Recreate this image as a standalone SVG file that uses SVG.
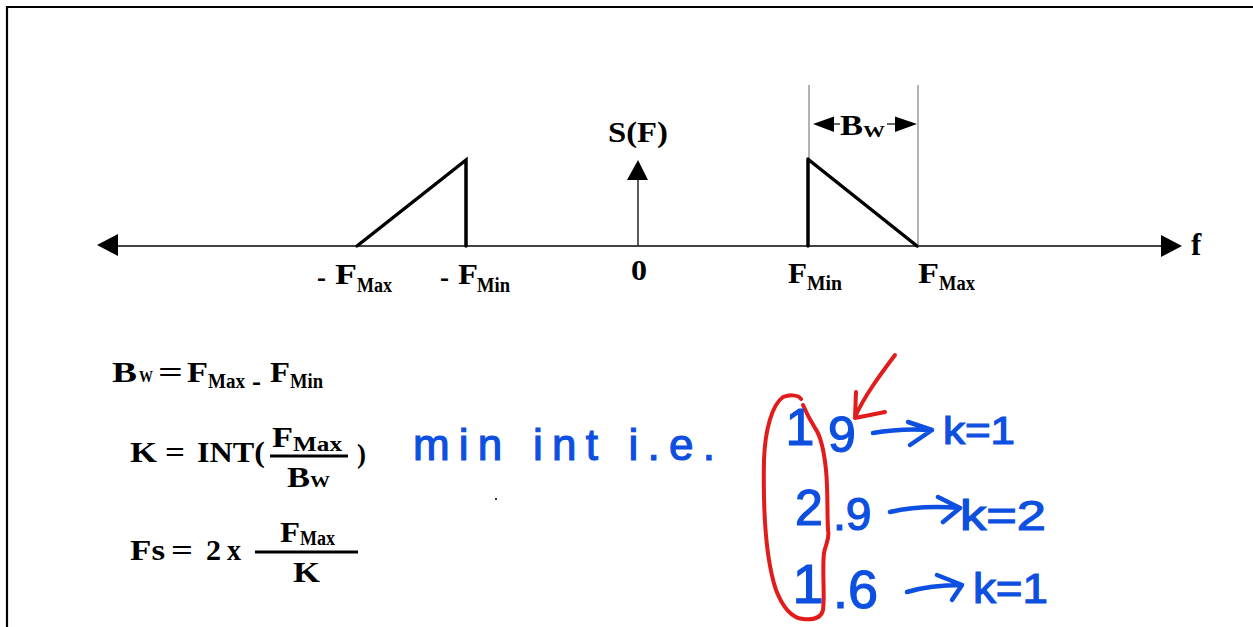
<svg xmlns="http://www.w3.org/2000/svg" width="1253" height="627" viewBox="0 0 1253 627">
<style>
.t{font-family:"Liberation Serif","Times New Roman",serif;font-weight:bold;fill:#000}
.hw{font-family:"Liberation Sans",Arial,sans-serif;fill:#0d4fe0;stroke:#0d4fe0;stroke-width:1.2}
.hwl{fill:none;stroke:#0d4fe0;stroke-width:4.5;stroke-linecap:round;stroke-linejoin:round}
.rd{fill:none;stroke:#e21b1b;stroke-width:4;stroke-linecap:round;stroke-linejoin:round}
.thick{stroke:#000;stroke-width:3.5;stroke-linecap:round;fill:none}
.guide{stroke:#9a9a9a;stroke-width:1.5;fill:none}
.ah{fill:#000}
</style>
<rect width="1253" height="627" fill="#fff"/>
<path d="M7,627 V7 H1253" fill="none" stroke="#000" stroke-width="2.2"/>

<g id="connectors">
  <line x1="117" y1="246" x2="1162" y2="246" stroke="#444" stroke-width="2"/>
  <polygon class="ah" points="97,245 118,234 118,256"/>
  <polygon class="ah" points="1161,235 1161,257 1182,246"/>
  <line x1="638" y1="180" x2="638" y2="246" stroke="#333" stroke-width="1.6"/>
  <polygon class="ah" points="627,180 648,180 638,160"/>
  <line class="guide" x1="809" y1="85" x2="809" y2="160"/>
  <line class="guide" x1="918" y1="85" x2="918" y2="248"/>
  <polygon class="ah" points="813,124 834,116.5 834,132"/>
  <polygon class="ah" points="917,124 895,116.5 895,132"/>
  <line x1="834" y1="124" x2="840" y2="124" stroke="#333" stroke-width="1.5"/>
  <line x1="887" y1="124" x2="895" y2="124" stroke="#333" stroke-width="1.5"/>
</g>

<g id="spectrum-neg">
  <path class="thick" d="M357,246 L466,160 L466,246"/>
</g>
<g id="spectrum-pos">
  <path class="thick" d="M808,246 L808,159 M809,160 L917,246"/>
</g>

<g id="axis-labels">
  <text class="t" x="608" y="142" font-size="30" textLength="60" lengthAdjust="spacingAndGlyphs">S(F)</text>
  <text class="t" x="1191" y="255" font-size="31">f</text>
  <text class="t" x="631" y="280" font-size="29" textLength="16" lengthAdjust="spacingAndGlyphs">0</text>
  <text class="t" x="317" y="287" font-size="30" textLength="9" lengthAdjust="spacingAndGlyphs">-</text>
  <text class="t" x="335" y="284" font-size="30" textLength="22" lengthAdjust="spacingAndGlyphs">F</text>
  <text class="t" x="357" y="292" font-size="20" textLength="35" lengthAdjust="spacingAndGlyphs">Max</text>
  <text class="t" x="440" y="287" font-size="30" textLength="9" lengthAdjust="spacingAndGlyphs">-</text>
  <text class="t" x="458" y="284" font-size="30" textLength="20" lengthAdjust="spacingAndGlyphs">F</text>
  <text class="t" x="477" y="292" font-size="20" textLength="33" lengthAdjust="spacingAndGlyphs">Min</text>
  <text class="t" x="788" y="283" font-size="30" textLength="19" lengthAdjust="spacingAndGlyphs">F</text>
  <text class="t" x="807" y="290" font-size="20" textLength="35" lengthAdjust="spacingAndGlyphs">Min</text>
  <text class="t" x="918" y="283" font-size="30" textLength="21" lengthAdjust="spacingAndGlyphs">F</text>
  <text class="t" x="939" y="290" font-size="20" textLength="36" lengthAdjust="spacingAndGlyphs">Max</text>
  <text class="t" x="840" y="135" font-size="29" textLength="23" lengthAdjust="spacingAndGlyphs">B</text>
  <text class="t" x="863" y="137" font-size="16" textLength="22" lengthAdjust="spacingAndGlyphs">W</text>
</g>

<g id="formula-bw">
  <text class="t" x="112" y="382" font-size="30" textLength="25" lengthAdjust="spacingAndGlyphs">B</text>
  <text class="t" x="139" y="382" font-size="17" textLength="14" lengthAdjust="spacingAndGlyphs">W</text>
  <text class="t" x="158" y="382" font-size="30" textLength="25" lengthAdjust="spacingAndGlyphs">=</text>
  <text class="t" x="187" y="382" font-size="30" textLength="21" lengthAdjust="spacingAndGlyphs">F</text>
  <text class="t" x="208" y="388" font-size="20" textLength="37" lengthAdjust="spacingAndGlyphs">Max</text>
  <text class="t" x="252" y="391" font-size="30" textLength="9" lengthAdjust="spacingAndGlyphs">-</text>
  <text class="t" x="270" y="382" font-size="30" textLength="20" lengthAdjust="spacingAndGlyphs">F</text>
  <text class="t" x="290" y="388" font-size="20" textLength="33" lengthAdjust="spacingAndGlyphs">Min</text>
</g>

<g id="formula-k">
  <text class="t" x="130" y="462" font-size="30" textLength="27" lengthAdjust="spacingAndGlyphs">K</text>
  <text class="t" x="165" y="462" font-size="30" textLength="20" lengthAdjust="spacingAndGlyphs">=</text>
  <text class="t" x="197" y="462" font-size="30" textLength="68" lengthAdjust="spacingAndGlyphs">INT(</text>
  <rect x="270" y="454.5" width="78" height="3" fill="#000"/>
  <text class="t" x="272" y="447" font-size="30" textLength="21" lengthAdjust="spacingAndGlyphs">F</text>
  <text class="t" x="293" y="451" font-size="20" textLength="49" lengthAdjust="spacingAndGlyphs">Max</text>
  <text class="t" x="287" y="487" font-size="30" textLength="23" lengthAdjust="spacingAndGlyphs">B</text>
  <text class="t" x="310" y="487" font-size="17" textLength="20" lengthAdjust="spacingAndGlyphs">W</text>
  <text class="t" x="357" y="463" font-size="27" textLength="9" lengthAdjust="spacingAndGlyphs">)</text>
</g>

<g id="formula-fs">
  <text class="t" x="130" y="560" font-size="30" textLength="35" lengthAdjust="spacingAndGlyphs">Fs</text>
  <text class="t" x="171" y="560" font-size="30" textLength="22" lengthAdjust="spacingAndGlyphs">=</text>
  <text class="t" x="206" y="560" font-size="30" textLength="15" lengthAdjust="spacingAndGlyphs">2</text>
  <text class="t" x="227" y="560" font-size="30" textLength="14" lengthAdjust="spacingAndGlyphs">x</text>
  <rect x="255" y="550.5" width="103" height="3" fill="#000"/>
  <text class="t" x="280" y="542" font-size="30" textLength="20" lengthAdjust="spacingAndGlyphs">F</text>
  <text class="t" x="300" y="545" font-size="20" textLength="35" lengthAdjust="spacingAndGlyphs">Max</text>
  <text class="t" x="293" y="582" font-size="30" textLength="27" lengthAdjust="spacingAndGlyphs">K</text>
</g>

<g id="note-min-int">
  <text class="hw" x="413" y="460" font-size="44" textLength="302" lengthAdjust="spacing">min int i.e.</text>
  <rect x="495" y="498" width="2" height="2" fill="#333"/>
</g>

<g id="note-red">
  <path class="rd" d="M801,399 C798,394 788,395 783,397 C772,405 765,430 764,460 C763,510 766,560 776,590 C783,608 792,618 803,619 C812,620 821,619 823,610 C825,595 822,570 824,553 C826,543 830,538 828,530 C827,510 828,490 826,470 C824,450 820,435 815,428 C810,420 806,412 803,405"/>
  <path class="rd" d="M895,355 C880,375 865,395 855,417 M856,392 L855,418 L885,412"/>
</g>

<g id="note-row1">
  <text class="hw" x="800" y="445" font-size="52" text-anchor="middle">1</text>
  <text class="hw" x="842" y="452" font-size="50" text-anchor="middle">9</text>
  <path class="hwl" d="M873,433 Q900,428 932,430 M908,422 L932,430 L910,445"/>
  <text class="hw" x="943" y="444" font-size="38" textLength="72" lengthAdjust="spacingAndGlyphs">k=1</text>
</g>
<g id="note-row2">
  <text class="hw" x="809" y="525" font-size="50" text-anchor="middle">2</text>
  <text class="hw" x="833" y="530" font-size="46">.9</text>
  <path class="hwl" d="M890,512 Q920,505 960,508 M938,497 L960,508 L943,522"/>
  <text class="hw" x="960" y="530" font-size="42" textLength="86" lengthAdjust="spacingAndGlyphs">k=2</text>
</g>
<g id="note-row3">
  <text class="hw" x="808" y="603" font-size="56" text-anchor="middle">1</text>
  <text class="hw" x="833" y="608" font-size="54">.6</text>
  <path class="hwl" d="M907,592 Q930,585 962,585 M937,575 L962,585 L952,600"/>
  <text class="hw" x="973" y="603" font-size="42" textLength="75" lengthAdjust="spacingAndGlyphs">k=1</text>
</g>
</svg>
